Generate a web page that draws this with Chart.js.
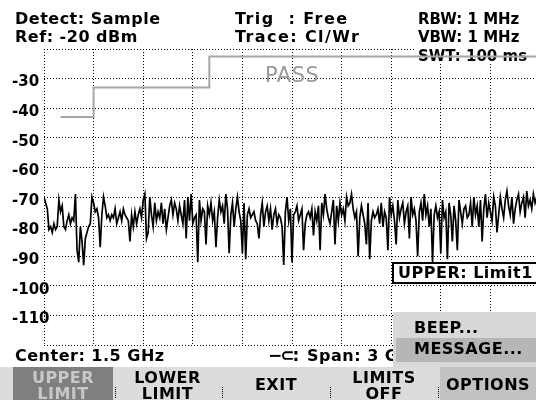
<!DOCTYPE html>
<html>
<head>
<meta charset="utf-8">
<script src="https://cdn.jsdelivr.net/npm/chart.js@4/dist/chart.umd.min.js"></script>
<style>
  html, body { margin: 0; padding: 0; background: #fff; overflow: hidden; }
  #screen { position: relative; width: 536px; height: 400px; overflow: hidden; }
  #chart { position: absolute; left: 0; top: 0; }
  .t { position: absolute; font: bold 16px "DejaVu Sans", sans-serif; line-height: 16px;
       letter-spacing: 0.5px; white-space: pre; color: #000; }
  .btn { position: absolute; top: 367px; height: 33px; text-align: center; }
  .btn .t { position: static; line-height: 16px; }
  .sep { position: absolute; top: 387px; height: 11px; border-left: 1px dotted #000; }
</style>
</head>
<body>
<div id="screen">
  <canvas id="chart" width="541" height="400"></canvas>

  <div class="t" style="left:15px;top:11px">Detect: Sample</div>
  <div class="t" style="left:15px;top:29px">Ref: -20 dBm</div>
  <div class="t" style="left:235px;top:11px;letter-spacing:1.4px">Trig  : Free</div>
  <div class="t" style="left:235px;top:29px;letter-spacing:1.4px">Trace: Cl/Wr</div>
  <div class="t" style="left:418px;top:11px;font-size:15px;letter-spacing:0">RBW: 1 MHz</div>
  <div class="t" style="left:418px;top:29px;font-size:15px;letter-spacing:0">VBW: 1 MHz</div>

  <div class="t" style="left:265px;top:64px;font:21px 'DejaVu Sans',sans-serif;line-height:22px;color:#9a9a9a">PASS</div>

  <div class="t" style="left:15px;top:348px">Center: 1.5 GHz</div>
  <div class="t" style="left:268px;top:347px;font-size:17px;letter-spacing:-2px">−⊂:</div>
  <div class="t" style="left:307px;top:348px">Span: 3 GHz</div>

  <div style="position:absolute;left:392px;top:262px;width:150px;height:18px;background:#fff;border:2px solid #000"></div>
  <div class="t" style="left:398px;top:265px">UPPER: Limit1</div>

  <div style="position:absolute;left:393px;top:312px;width:143px;height:55px;background:#d8d8d8"></div>
  <div style="position:absolute;left:396px;top:338px;width:140px;height:24px;background:#b6b6b6"></div>
  <div class="t" style="left:414px;top:320px">BEEP...</div>
  <div class="t" style="left:414px;top:341px">MESSAGE...</div>

  <div style="position:absolute;left:0;top:367px;width:536px;height:33px;background:#dcdcdc"></div>
  <div class="btn" style="left:13px;width:100px;background:#7f7f7f">
    <div class="t" style="color:#c8c8c8;margin-top:3px">UPPER</div>
    <div class="t" style="color:#c8c8c8">LIMIT</div>
  </div>
  <div class="btn" style="left:117px;width:101px">
    <div class="t" style="margin-top:3px">LOWER</div>
    <div class="t">LIMIT</div>
  </div>
  <div class="btn" style="left:224px;width:104px">
    <div class="t" style="margin-top:10px">EXIT</div>
  </div>
  <div class="btn" style="left:332px;width:104px">
    <div class="t" style="margin-top:3px">LIMITS</div>
    <div class="t">OFF</div>
  </div>
  <div class="btn" style="left:440px;width:96px;background:#c2c2c2">
    <div class="t" style="margin-top:10px">OPTIONS</div>
  </div>
  <div class="sep" style="left:115px"></div>
  <div class="sep" style="left:222px"></div>
  <div class="sep" style="left:330px"></div>
  <div class="sep" style="left:438px"></div>
</div>

<script>
// sweep: 0 .. 3 GHz, one sample every 10 MHz
const sweepStep = 0.01;

// trace levels in dBm (20 samples = 200 MHz per row)
const traceLevels = [
  -70, -72, -74, -81, -80, -82, -79, -81, -80, -71, -75, -73, -80, -81, -78, -76, -79, -77, -78, -69,
  -88, -92, -80, -85, -93, -84, -82, -80, -79, -70, -72, -75, -74, -77, -87, -76, -70, -73, -77, -76,
  -78, -76, -77, -74, -79, -77, -75, -78, -74, -76, -77, -78, -85, -76, -80, -75, -79, -76, -74, -77,
  -71, -69, -84, -82, -70, -76, -80, -72, -78, -75, -77, -72, -79, -74, -81, -77, -73, -71, -76, -72,
  -74, -78, -73, -76, -79, -71, -84, -70, -78, -69, -79, -77, -76, -92, -71, -78, -74, -75, -86, -73,
  -76, -72, -78, -75, -87, -77, -71, -75, -73, -79, -69, -74, -89, -76, -72, -80, -74, -70, -75, -78,
  -89, -72, -91, -76, -74, -77, -76, -75, -78, -79, -84, -76, -72, -80, -75, -73, -78, -74, -81, -76,
  -74, -79, -76, -77, -80, -93, -75, -70, -78, -74, -92, -76, -75, -73, -78, -76, -74, -88, -79, -76,
  -75, -77, -74, -83, -75, -78, -73, -88, -72, -76, -69, -74, -77, -79, -75, -71, -86, -73, -78, -72,
  -76, -74, -78, -70, -73, -72, -69, -74, -77, -75, -90, -77, -73, -76, -79, -86, -72, -91, -78, -75,
  -77, -76, -74, -79, -72, -80, -75, -77, -88, -70, -76, -73, -78, -86, -71, -77, -74, -72, -79, -75,
  -73, -84, -70, -76, -74, -78, -90, -75, -72, -78, -69, -76, -73, -80, -74, -92, -76, -73, -77, -75,
  -89, -71, -77, -75, -91, -72, -76, -85, -73, -78, -88, -71, -75, -79, -74, -73, -77, -76, -72, -80,
  -70, -76, -73, -80, -71, -85, -74, -69, -77, -72, -75, -78, -70, -73, -82, -76, -70, -74, -77, -71,
  -68, -73, -76, -70, -79, -74, -71, -69, -75, -72, -70, -77, -68, -73, -71, -74, -69, -72, -70, -68
];

// upper limit line "Limit1"
const limitFreq = [0.1, 0.3, 0.3, 1.0, 1.0, 3.0];
const limitLevel = [-43, -43, -33, -33, -22.5, -22.5];

// y labels printed left of the grid
const yTickLabels = [-30, -40, -50, -60, -70, -80, -90, -100, -110];

const tracePoints = traceLevels.map((v, i) => ({ x: i * sweepStep, y: v }));
const limitPoints = limitFreq.map((f, i) => ({ x: f, y: limitLevel[i] }));

const screenText = {
  id: "screenText",
  beforeDatasetsDraw(chart) {
    const c = chart.ctx;
    c.save();
    c.fillStyle = "#fff";
    c.fillRect(416, 44, 125, 20);
    c.fillStyle = "#000";
    c.font = "bold 15px 'DejaVu Sans'";
    c.textBaseline = "alphabetic";
    c.fillText("SWT: 100 ms", 418, 61);
    c.restore();
  },
  afterDraw(chart) {
    const c = chart.ctx;
    const ys = chart.scales.y;
    c.save();
    c.fillStyle = "#000";
    c.font = "bold 15px 'DejaVu Sans'";
    c.textAlign = "left";
    c.textBaseline = "middle";
    yTickLabels.forEach(v => {
      c.fillText(String(v), 12, ys.getPixelForValue(v) + 4);
    });
    c.restore();
  }
};

const ctx = document.getElementById("chart").getContext("2d");
new Chart(ctx, {
  type: "line",
  data: {
    datasets: [
      {
        label: "Trace",
        data: tracePoints,
        borderColor: "#000",
        borderWidth: 1.7,
        pointRadius: 0,
        tension: 0
      },
      {
        label: "Limit1",
        data: limitPoints,
        borderColor: "#a6a6a6",
        borderWidth: 2,
        pointRadius: 0,
        tension: 0
      }
    ]
  },
  options: {
    responsive: false,
    animation: false,
    devicePixelRatio: 1,
    layout: { padding: { left: 44, top: 49, right: 1, bottom: 55 } },
    plugins: { legend: { display: false }, tooltip: { enabled: false } },
    scales: {
      x: {
        type: "linear",
        min: 0,
        max: 3,
        ticks: { display: false, stepSize: 0.3 },
        grid: { color: "#000", lineWidth: 1, drawTicks: false },
        border: { display: false, dash: [1, 2] },
        afterFit(s) { s.height = 0; }
      },
      y: {
        min: -120,
        max: -20,
        ticks: { display: false, stepSize: 10 },
        grid: { color: "#000", lineWidth: 1, drawTicks: false },
        border: { display: false, dash: [1, 2] },
        afterFit(s) { s.width = 0; }
      }
    }
  },
  plugins: [screenText]
});
</script>
</body>
</html>
